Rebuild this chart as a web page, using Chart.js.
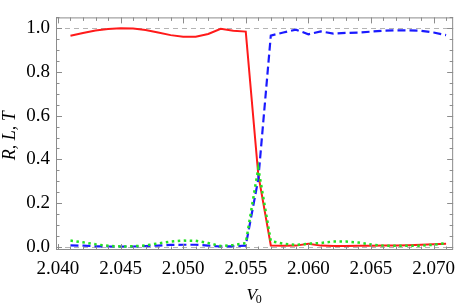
<!DOCTYPE html>
<html>
<head>
<meta charset="utf-8">
<script src="https://cdn.jsdelivr.net/npm/chart.js@4.4.1/dist/chart.umd.min.js"></script>
<style>
  html, body { margin: 0; padding: 0; background: #fff; }
  #wrap { width: 463px; height: 308px; position: relative; }
</style>
</head>
<body>
<div id="wrap"><canvas id="chart"></canvas></div>
<script>
// Scan over V0 (step 0.001)
const voltages = [2.041, 2.042, 2.043, 2.044, 2.045, 2.046, 2.047, 2.048, 2.049, 2.050,
                  2.051, 2.052, 2.053, 2.054, 2.055, 2.056, 2.057, 2.058, 2.059, 2.060,
                  2.061, 2.062, 2.063, 2.064, 2.065, 2.066, 2.067, 2.068, 2.069, 2.070, 2.071];

// R (red, solid)
const reflection = [0.965, 0.978, 0.989, 0.996, 0.999, 0.998, 0.991, 0.980, 0.968, 0.961,
                    0.961, 0.973, 0.997, 0.988, 0.984, 0.330, 0.007, 0.005, 0.006, 0.014,
                    0.006, 0.004, 0.004, 0.005, 0.005, 0.006, 0.007, 0.008, 0.010, 0.012, 0.015];

// L (green, dotted)
const loss = [0.029, 0.021, 0.012, 0.005, 0.002, 0.003, 0.007, 0.016, 0.024, 0.029,
              0.028, 0.018, 0.004, 0.009, 0.017, 0.360, 0.027, 0.015, 0.009, 0.015,
              0.018, 0.025, 0.025, 0.020, 0.011, 0.006, 0.005, 0.005, 0.006, 0.010, 0.017];

// T (blue, dashed)
const transmission = [0.007, 0.006, 0.003, 0.002, 0.002, 0.002, 0.004, 0.006, 0.009, 0.010,
                      0.010, 0.006, 0.002, 0.003, 0.006, 0.310, 0.966, 0.980, 0.993, 0.972,
                      0.985, 0.975, 0.978, 0.980, 0.984, 0.988, 0.990, 0.990, 0.988, 0.980, 0.968];

const xTicks = [2.040, 2.045, 2.050, 2.055, 2.060, 2.065, 2.070];
const yTicks = [0.0, 0.2, 0.4, 0.6, 0.8, 1.0];
const refLevels = [0, 1];

const FONT = "'Liberation Serif', 'DejaVu Serif', serif";

function pts(ys) {
    return voltages.map((x, i) => ({ x: x, y: ys[i] }));
}

// Mathematica-style frame: inward ticks on all four sides, dashed guides at 0 and 1
const framePlugin = {
    id: 'frame',
    beforeDatasetsDraw(chart) {
        const { ctx, chartArea: a, scales: { y } } = chart;
        ctx.save();
        ctx.strokeStyle = '#b4b4b4';
        ctx.lineWidth = 1;
        ctx.setLineDash([5, 4]);
        refLevels.forEach(v => {
            const py = Math.round(y.getPixelForValue(v)) + 0.5;
            ctx.beginPath();
            ctx.moveTo(a.left, py);
            ctx.lineTo(a.right, py);
            ctx.stroke();
        });
        ctx.restore();
    },
    afterDatasetsDraw(chart) {
        const { ctx, chartArea: a, scales: { x, y } } = chart;
        ctx.save();
        ctx.strokeStyle = '#8c8c8c';
        ctx.lineWidth = 1;
        ctx.strokeRect(a.left + 0.5, a.top + 0.5, a.right - a.left - 1, a.bottom - a.top - 1);

        ctx.beginPath();
        // x ticks every 0.001, major every 0.005
        for (let k = 0; k <= 31; k++) {
            const v = 2.040 + k * 0.001;
            const px = Math.round(x.getPixelForValue(v)) + 0.5;
            if (px < a.left || px > a.right) continue;
            const len = (k % 5 === 0) ? 6 : 3.5;
            ctx.moveTo(px, a.bottom); ctx.lineTo(px, a.bottom - len);
            ctx.moveTo(px, a.top); ctx.lineTo(px, a.top + len);
        }
        // y ticks every 0.05, major every 0.2
        for (let k = 0; k <= 21; k++) {
            const v = k * 0.05;
            const py = Math.round(y.getPixelForValue(v)) + 0.5;
            if (py < a.top || py > a.bottom) continue;
            const len = (k % 4 === 0) ? 6 : 3.5;
            ctx.moveTo(a.left, py); ctx.lineTo(a.left + len, py);
            ctx.moveTo(a.right, py); ctx.lineTo(a.right - len, py);
        }
        ctx.stroke();
        ctx.restore();
    },
    afterDraw(chart) {
        const { ctx, chartArea: a } = chart;
        ctx.save();
        ctx.fillStyle = '#000';
        // x title: V with subscript 0
        const cx = (a.left + a.right) / 2;
        ctx.font = 'italic 17px ' + FONT;
        ctx.textBaseline = 'alphabetic';
        const wV = ctx.measureText('V').width;
        ctx.font = '12px ' + FONT;
        const w0 = ctx.measureText('0').width;
        const start = cx - (wV + w0) / 2;
        ctx.font = 'italic 17px ' + FONT;
        ctx.fillText('V', start, 300);
        ctx.font = '12px ' + FONT;
        ctx.fillText('0', start + wV - 1, 303);

        // y title
        ctx.translate(15, (a.top + a.bottom) / 2 + 2);
        ctx.rotate(-Math.PI / 2);
        ctx.font = 'italic 18px ' + FONT;
        ctx.textAlign = 'center';
        ctx.fillText('R, L, T', 0, 0);
        ctx.restore();
    }
};

const ctx = document.getElementById('chart').getContext('2d');
new Chart(ctx, {
    type: 'line',
    data: {
        datasets: [
            {
                label: 'L',
                data: pts(loss),
                borderColor: '#22e222',
                borderWidth: 2.5,
                borderDash: [2.5, 3.5],
                borderCapStyle: 'butt',
                order: 0
            },
            {
                label: 'T',
                data: pts(transmission),
                borderColor: '#1a1aff',
                borderWidth: 2.2,
                borderDash: [8, 4],
                order: 1
            },
            {
                label: 'R',
                data: pts(reflection),
                borderColor: '#ff1a1a',
                borderWidth: 2,
                order: 2
            }
        ]
    },
    options: {
        responsive: true,
        maintainAspectRatio: false,
        animation: false,
        devicePixelRatio: 1,
        layout: { padding: { top: 1, right: 1, left: 0, bottom: 0 } },
        elements: {
            point: { radius: 0 },
            line: { tension: 0, fill: false }
        },
        plugins: {
            legend: { display: false },
            tooltip: { enabled: false },
            title: { display: false }
        },
        scales: {
            x: {
                type: 'linear',
                min: 2.039844,
                max: 2.071563,
                grid: { display: false, drawTicks: false },
                border: { display: false },
                afterBuildTicks: s => { s.ticks = xTicks.map(v => ({ value: v })); },
                afterFit: s => { s.height = 58; },
                ticks: {
                    color: '#000',
                    padding: 8,
                    maxRotation: 0,
                    autoSkip: false,
                    font: { family: FONT, size: 19 },
                    callback: v => v.toFixed(3)
                }
            },
            y: {
                type: 'linear',
                min: -0.014,
                max: 1.049,
                grid: { display: false, drawTicks: false },
                border: { display: false },
                afterBuildTicks: s => { s.ticks = yTicks.map(v => ({ value: v })); },
                afterFit: s => { s.width = 56; },
                ticks: {
                    color: '#000',
                    padding: 6,
                    autoSkip: false,
                    font: { family: FONT, size: 19 },
                    callback: v => v.toFixed(1)
                }
            }
        }
    },
    plugins: [framePlugin]
});
</script>
</body>
</html>
